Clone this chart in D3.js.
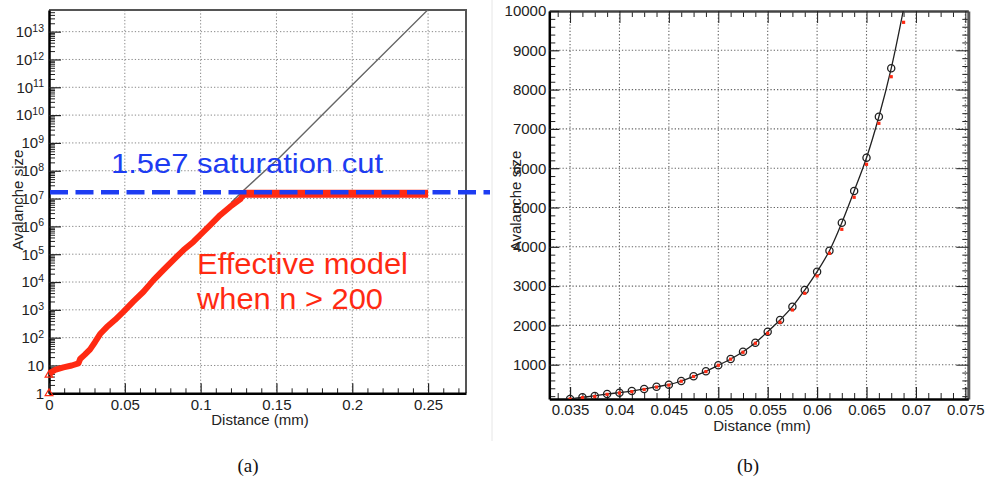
<!DOCTYPE html>
<html><head><meta charset="utf-8">
<script src="https://cdn.jsdelivr.net/npm/d3@7"></script>
<style>
body{margin:0;background:#fff;}
svg{display:block;font-family:"Liberation Sans",Arial,Helvetica,sans-serif;}
</style></head><body>
<svg id="c" width="989" height="480"></svg>
<script>
// ---------- Panel (a) data ----------
const aRedX = [0, 0, 0.001, 0.004, 0.0095, 0.015, 0.0194, 0.0205, 0.0238, 0.0271, 0.0304, 0.0337, 0.0381, 0.0436, 0.0495, 0.0557, 0.0623, 0.0689, 0.0755, 0.0821, 0.0887, 0.0953, 0.0997, 0.1063, 0.113, 0.1195, 0.1262, 0.1284, 0.14, 0.16, 0.18, 0.2, 0.22, 0.24, 0.25];
const aRedY = [1, 4.6, 5.5, 6.9, 8.5, 10, 12, 17, 25, 38, 70, 135, 240, 437, 900, 2000, 4470, 11700, 27500, 63000, 141000, 282000, 490000, 1.12e6, 2.57e6, 5.1e6, 9.5e6, 1.5e7, 1.5e7, 1.5e7, 1.5e7, 1.5e7, 1.5e7, 1.5e7, 1.5e7];
const aGrayX = [0.12, 0.1284, 0.1526, 0.19, 0.25];
const aGrayY = [7.1e6, 2.0e7, 3.2e8, 3.5e10, 6.2e13];
const aSaturation = 1.5e7;
const aXTicks = [0, 0.05, 0.1, 0.15, 0.2, 0.25];
const aYTicks = [1, 10, 1e2, 1e3, 1e4, 1e5, 1e6, 1e7, 1e8, 1e9, 1e10, 1e11, 1e12, 1e13];

// ---------- Panel (b) data ----------
const bX = [0.035, 0.03625, 0.0375, 0.03875, 0.04, 0.04125, 0.0425, 0.04375, 0.045, 0.04625, 0.0475, 0.04875, 0.05, 0.05125, 0.0525, 0.05375, 0.055, 0.05625, 0.0575, 0.05875, 0.06, 0.06125, 0.0625, 0.06375, 0.065, 0.06625, 0.0675];
const bCircleY = [130, 170, 204, 255, 288, 330, 382, 440, 491, 585, 705, 832, 985, 1145, 1331, 1560, 1840, 2137, 2476, 2900, 3366, 3901, 4613, 5420, 6267, 7310, 8542];
const bRedX = [0.035, 0.03625, 0.0375, 0.03875, 0.04, 0.04125, 0.0425, 0.04375, 0.045, 0.04625, 0.0475, 0.04875, 0.05, 0.05125, 0.0525, 0.05375, 0.055, 0.05625, 0.0575, 0.05875, 0.06, 0.06125, 0.0625, 0.06375, 0.065, 0.06625, 0.0675, 0.06875];
const bRedY = [125, 160, 190, 245, 280, 315, 370, 430, 480, 580, 700, 825, 985, 1140, 1316, 1545, 1799, 2079, 2392, 2817, 3257, 3835, 4445, 5260, 6099, 7142, 8328, 9712];
const bFitX = [0.035, 0.03625, 0.0375, 0.03875, 0.04, 0.04125, 0.0425, 0.04375, 0.045, 0.04625, 0.0475, 0.04875, 0.05, 0.05125, 0.0525, 0.05375, 0.055, 0.05625, 0.0575, 0.05875, 0.06, 0.06125, 0.0625, 0.06375, 0.065, 0.06625, 0.0675, 0.06875];
const bFitY = [130, 170, 204, 255, 288, 330, 382, 440, 491, 585, 705, 832, 985, 1145, 1331, 1560, 1840, 2137, 2476, 2900, 3366, 3901, 4613, 5420, 6267, 7310, 8542, 10050];
const bXTicks = [0.035, 0.04, 0.045, 0.05, 0.055, 0.06, 0.065, 0.07, 0.075];
const bYTicks = [1000, 2000, 3000, 4000, 5000, 6000, 7000, 8000, 9000, 10000];

const svg = d3.select("#c");
const RED = "#ff2a12", BLUE = "#1d3cf2";

// divider
svg.append("line").attr("x1", 492).attr("x2", 492).attr("y1", 0).attr("y2", 441)
  .attr("stroke", "#e6e6e6").attr("stroke-width", 1);

// ================= Panel (a) =================
const xL = d3.scaleLinear([0, 0.275], [49, 466]);
const yL = d3.scaleLog([1, 6e13], [393.3, 10]);
const gA = svg.append("g");
gA.append("clipPath").attr("id", "clipA").append("rect")
  .attr("x", 49).attr("y", 10).attr("width", 417).attr("height", 383.3);

// grid
gA.append("g").selectAll("line").data(aYTicks.slice(1)).join("line")
  .attr("x1", 49).attr("x2", 466).attr("y1", d => yL(d)).attr("y2", d => yL(d))
  .attr("stroke", "#8a8a8a").attr("stroke-dasharray", "1.3,2").attr("stroke-width", 1);
gA.append("g").selectAll("line").data(aXTicks.slice(1)).join("line")
  .attr("y1", 10).attr("y2", 393.3).attr("x1", d => xL(d)).attr("x2", d => xL(d))
  .attr("stroke", "#8a8a8a").attr("stroke-dasharray", "1.3,2").attr("stroke-width", 1);

// frame top/right
gA.append("path").attr("d", `M49,10H466V393.3`).attr("fill", "none")
  .attr("stroke", "#555").attr("stroke-width", 2);

// minor ticks
const aYMinor = [];
for (let e = 0; e < 14; e++) for (let k = 2; k <= 9; k++) { const v = k * Math.pow(10, e); if (v < 6e13) aYMinor.push(v); }
gA.append("g").attr("transform", "translate(49,0)")
  .call(d3.axisLeft(yL).tickValues(aYMinor).tickSize(-6).tickFormat(""))
  .call(g => g.select(".domain").remove())
  .selectAll("line").attr("stroke", "#222");
const aXMinor = [0.01, 0.02, 0.03, 0.04, 0.06, 0.07, 0.08, 0.09, 0.11, 0.12, 0.13, 0.14, 0.16, 0.17, 0.18, 0.19, 0.21, 0.22, 0.23, 0.24, 0.26, 0.27];
gA.append("g").attr("transform", "translate(0,393.3)")
  .call(d3.axisBottom(xL).tickValues(aXMinor).tickSize(-5).tickFormat(""))
  .call(g => g.select(".domain").remove())
  .selectAll("line").attr("stroke", "#222");

// major axes
const axYL = gA.append("g").attr("transform", "translate(49,0)")
  .call(d3.axisLeft(yL).tickValues(aYTicks).tickSize(-12).tickSizeOuter(0).tickPadding(5)
    .tickFormat(d => { const e = Math.round(Math.log10(d)); return e === 0 ? "1" : "10"; }));
axYL.selectAll("text").attr("font-size", 15).attr("fill", "#222").attr("font-family", "Liberation Sans, Arial, sans-serif")
  .each(function (d) {
    const e = Math.round(Math.log10(d));
    if (e >= 2) d3.select(this).append("tspan").attr("dy", "-0.5em").attr("font-size", 10.5).text(e);
  });
axYL.select(".domain").attr("stroke", "#000").attr("stroke-width", 2.5);
axYL.selectAll(".tick line").attr("stroke", "#222").attr("stroke-width", 1.2);

const axXL = gA.append("g").attr("transform", "translate(0,393.3)")
  .call(d3.axisBottom(xL).tickValues(aXTicks).tickSize(-10).tickSizeOuter(0).tickPadding(6).tickFormat(d => String(d)));
axXL.selectAll("text").attr("font-size", 15).attr("fill", "#222").attr("font-family", "Liberation Sans, Arial, sans-serif");
axXL.select(".domain").attr("stroke", "#000").attr("stroke-width", 2.5);
axXL.selectAll(".tick line").attr("stroke", "#222").attr("stroke-width", 1.2);

// data
const plotA = gA.append("g").attr("clip-path", "url(#clipA)");
plotA.append("path").datum(d3.range(aGrayX.length))
  .attr("d", d3.line().x(i => xL(aGrayX[i])).y(i => yL(aGrayY[i])))
  .attr("fill", "none").attr("stroke", "#666").attr("stroke-width", 1.4);
plotA.append("path").datum(d3.range(1, 28))
  .attr("d", d3.line().x(i => xL(aRedX[i])).y(i => yL(aRedY[i])))
  .attr("fill", "none").attr("stroke", RED).attr("stroke-width", 6).attr("stroke-linejoin", "round").attr("stroke-linecap", "butt");
plotA.append("path").datum(d3.range(27, aRedX.length))
  .attr("d", d3.line().x(i => xL(aRedX[i])).y(i => yL(aRedY[i])))
  .attr("fill", "none").attr("stroke", RED).attr("stroke-width", 8).attr("stroke-linecap", "butt");
gA.append("g").selectAll("path").data([0, 1]).join("path")
  .attr("transform", i => `translate(${xL(aRedX[i])},${yL(aRedY[i])})`)
  .attr("d", d3.symbol(d3.symbolTriangle).size(26))
  .attr("fill", "none").attr("stroke", RED).attr("stroke-width", 1.2);

// saturation dashed line
svg.append("line").attr("x1", 50).attr("x2", 490).attr("y1", yL(aSaturation) - 1.5).attr("y2", yL(aSaturation) - 1.5)
  .attr("stroke", BLUE).attr("stroke-width", 4.5).attr("stroke-dasharray", "18,7.5");

// annotations
svg.append("text").attr("x", 111).attr("y", 173).attr("font-size", 28.5).attr("fill", BLUE)
  .attr("textLength", 272).attr("lengthAdjust", "spacingAndGlyphs").text("1.5e7 saturation cut");
svg.append("text").attr("x", 197).attr("y", 274).attr("font-size", 30).attr("fill", RED)
  .attr("textLength", 211).attr("lengthAdjust", "spacingAndGlyphs").text("Effective model");
svg.append("text").attr("x", 197).attr("y", 309).attr("font-size", 30).attr("fill", RED)
  .attr("textLength", 186).attr("lengthAdjust", "spacingAndGlyphs").text("when n > 200");

// axis titles (a)
svg.append("text").attr("transform", "translate(23,200) rotate(-90)").attr("text-anchor", "middle")
  .attr("font-size", 15).attr("fill", "#222").text("Avalanche size");
svg.append("text").attr("x", 260).attr("y", 425).attr("text-anchor", "middle")
  .attr("font-size", 15).attr("fill", "#222").text("Distance (mm)");

// ================= Panel (b) =================
const xR = d3.scaleLinear([0.0329, 0.0753], [549.3, 968.3]);
const yR = d3.scaleLinear([127, 10000], [399, 11]);
const gB = svg.append("g");
gB.append("clipPath").attr("id", "clipB").append("rect")
  .attr("x", 549.3).attr("y", 11).attr("width", 419).attr("height", 388);

// grid
gB.append("g").selectAll("line").data(bYTicks.slice(0, -1)).join("line")
  .attr("x1", 549.3).attr("x2", 968.3).attr("y1", d => yR(d)).attr("y2", d => yR(d))
  .attr("stroke", "#666").attr("stroke-dasharray", "1.3,2").attr("stroke-width", 1.1);
gB.append("g").selectAll("line").data(bXTicks).join("line")
  .attr("y1", 11).attr("y2", 399).attr("x1", d => xR(d)).attr("x2", d => xR(d))
  .attr("stroke", "#666").attr("stroke-dasharray", "1.3,2").attr("stroke-width", 1.1);

// minor ticks
const bYMinor = [];
for (let v = 200; v <= 10000; v += 200) if (v % 1000 !== 0) bYMinor.push(v);
const bXMinor = [0.03375, 0.03625, 0.0375, 0.03875, 0.04125, 0.0425, 0.04375, 0.04625, 0.0475, 0.04875, 0.05125, 0.0525, 0.05375, 0.05625, 0.0575, 0.05875, 0.06125, 0.0625, 0.06375, 0.06625, 0.0675, 0.06875, 0.07125, 0.0725, 0.07375];
[["translate(549.3,0)", d3.axisLeft(yR).tickValues(bYMinor)],
 ["translate(968.3,0)", d3.axisRight(yR).tickValues(bYMinor)],
 ["translate(0,399)", d3.axisBottom(xR).tickValues(bXMinor)],
 ["translate(0,11)", d3.axisTop(xR).tickValues(bXMinor)]].forEach(([t, ax]) => {
  gB.append("g").attr("transform", t).call(ax.tickSize(-6).tickFormat(""))
    .call(g => g.select(".domain").remove())
    .selectAll("line").attr("stroke", "#222");
});
// mirrored major ticks
gB.append("g").attr("transform", "translate(968.3,0)")
  .call(d3.axisRight(yR).tickValues(bYTicks).tickSize(-12).tickSizeOuter(0).tickFormat(""))
  .call(g => g.select(".domain").attr("stroke", "#555").attr("stroke-width", 3))
  .selectAll(".tick line").attr("stroke", "#222");
gB.append("g").attr("transform", "translate(0,11)")
  .call(d3.axisTop(xR).tickValues(bXTicks).tickSize(-12).tickSizeOuter(0).tickFormat(""))
  .call(g => g.select(".domain").attr("stroke", "#444").attr("stroke-width", 2.5))
  .selectAll(".tick line").attr("stroke", "#222");

const axYR = gB.append("g").attr("transform", "translate(549.3,0)")
  .call(d3.axisLeft(yR).tickValues(bYTicks).tickSize(-10).tickSizeOuter(0).tickPadding(3).tickFormat(d => String(d)));
axYR.selectAll("text").attr("font-size", 15).attr("fill", "#222").attr("font-family", "Liberation Sans, Arial, sans-serif");
axYR.select(".domain").attr("stroke", "#000").attr("stroke-width", 2.5);
axYR.selectAll(".tick line").attr("stroke", "#222").attr("stroke-width", 1.2);

const axXR = gB.append("g").attr("transform", "translate(0,399)")
  .call(d3.axisBottom(xR).tickValues(bXTicks).tickSize(-12).tickSizeOuter(0).tickPadding(5).tickFormat(d => String(d)));
axXR.selectAll("text").attr("font-size", 15).attr("fill", "#222").attr("font-family", "Liberation Sans, Arial, sans-serif");
axXR.select(".domain").attr("stroke", "#000").attr("stroke-width", 2.5);
axXR.selectAll(".tick line").attr("stroke", "#222").attr("stroke-width", 1.2);

// data
const plotB = gB.append("g").attr("clip-path", "url(#clipB)");
plotB.append("path").datum(d3.range(bFitX.length))
  .attr("d", d3.line().curve(d3.curveCatmullRom).x(i => xR(bFitX[i])).y(i => yR(bFitY[i])))
  .attr("fill", "none").attr("stroke", "#222").attr("stroke-width", 1.3);
plotB.append("g").selectAll("circle").data(d3.range(bX.length)).join("circle")
  .attr("cx", i => xR(bX[i])).attr("cy", i => yR(bCircleY[i])).attr("r", 3.6)
  .attr("fill", "none").attr("stroke", "#222").attr("stroke-width", 1.3);
plotB.append("g").selectAll("rect").data(d3.range(bRedX.length)).join("rect")
  .attr("x", i => xR(bRedX[i]) - 1.6).attr("y", i => yR(bRedY[i]) - 1.6)
  .attr("width", 3.2).attr("height", 3.2).attr("fill", RED);

// axis titles (b)
svg.append("text").attr("transform", "translate(521,201) rotate(-90)").attr("text-anchor", "middle")
  .attr("font-size", 15).attr("fill", "#222").text("Avalanche size");
svg.append("text").attr("x", 762).attr("y", 431).attr("text-anchor", "middle")
  .attr("font-size", 15).attr("fill", "#222").text("Distance (mm)");

// sub-captions
svg.append("text").attr("x", 248).attr("y", 472).attr("text-anchor", "middle")
  .attr("font-family", "Liberation Serif, DejaVu Serif, serif").attr("font-size", 19).attr("fill", "#111").text("(a)");
svg.append("text").attr("x", 748).attr("y", 472).attr("text-anchor", "middle")
  .attr("font-family", "Liberation Serif, DejaVu Serif, serif").attr("font-size", 19).attr("fill", "#111").text("(b)");
</script>
</body></html>
